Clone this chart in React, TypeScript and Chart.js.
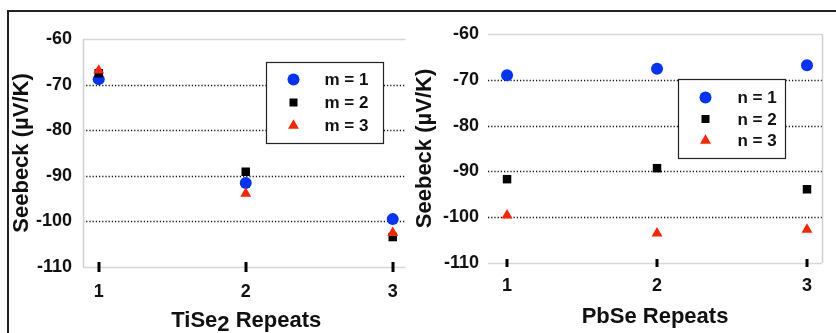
import React, { useEffect, useRef } from 'react';
import { Chart, registerables } from 'chart.js';

Chart.register(...registerables);

// ---------- data ----------
const repeats = [1, 2, 3];
const yTickValues = [-110, -100, -90, -80, -70, -60];

const tiseTitle = ['TiSe', '2', ' Repeats'];
const tiseLabels = ['m = 1', 'm = 2', 'm = 3'];
const tiseM1 = [-68.8, -91.6, -99.5];
const tiseM2 = [-67.5, -89.1, -103.4];
const tiseM3 = [-66.9, -93.9, -102.5];

const pbseTitle = 'PbSe Repeats';
const pbseLabels = ['n = 1', 'n = 2', 'n = 3'];
const pbseN1 = [-69.0, -67.6, -66.8];
const pbseN2 = [-91.7, -89.3, -93.9];
const pbseN3 = [-99.6, -103.5, -102.7];

const yTitle = 'Seebeck (µV/K)';

// ---------- styles ----------
const FONT = "'Liberation Sans', Arial, Helvetica, sans-serif";
const seriesColors = ['#0033ff', '#000000', '#ff2200'];
const pointStyles = ['circle', 'rect', 'triangle'];
const pointRadii = [6, 6, 6.3];

function drawMarker(ctx: CanvasRenderingContext2D, style: string, x: number, y: number, color: string) {
  ctx.fillStyle = color;
  ctx.beginPath();
  if (style === 'circle') {
    ctx.arc(x, y, 6, 0, Math.PI * 2);
  } else if (style === 'rect') {
    ctx.rect(x - 4, y - 4, 8, 8);
  } else {
    const r = 6.3;
    ctx.moveTo(x, y - r);
    ctx.lineTo(x + r * 0.866, y + r * 0.5);
    ctx.lineTo(x - r * 0.866, y + r * 0.5);
    ctx.closePath();
  }
  ctx.fill();
}

const decorPlugin = {
  id: 'decor',
  beforeDatasetsDraw(chart: any, _args: any, opts: any) {
    const { ctx, chartArea: a, scales } = chart;
    const x = scales.x;
    const y = scales.y;
    ctx.save();
    for (const v of yTickValues) {
      const py = Math.round(y.getPixelForValue(v)) + 0.5;
      ctx.beginPath();
      if (v === -60 || v === -110) {
        ctx.setLineDash([]);
        ctx.strokeStyle = '#d8d8d8';
        ctx.lineWidth = 1.5;
      } else {
        ctx.setLineDash([1.2, 2]);
        ctx.strokeStyle = '#111';
        ctx.lineWidth = 1.5;
      }
      ctx.moveTo(a.left, py);
      ctx.lineTo(a.right, py);
      ctx.stroke();
    }
    ctx.setLineDash([]);
    ctx.strokeStyle = '#d0d0d0';
    ctx.lineWidth = 1.5;
    if (opts.leftLine) {
      ctx.beginPath();
      ctx.moveTo(Math.round(a.left) + 0.5, a.top);
      ctx.lineTo(Math.round(a.left) + 0.5, a.bottom);
      ctx.stroke();
    }
    if (opts.rightLine) {
      ctx.beginPath();
      ctx.moveTo(Math.round(a.right) + 0.5, a.top);
      ctx.lineTo(Math.round(a.right) + 0.5, a.bottom);
      ctx.stroke();
    }
    ctx.fillStyle = '#000';
    for (const v of repeats) {
      const px = x.getPixelForValue(v);
      const py = y.getPixelForValue(-110);
      ctx.fillRect(Math.round(px) - 1.5, py - opts.tickHalf, 3, opts.tickHalf * 2);
    }
    ctx.restore();
  },
  afterDraw(chart: any, _args: any, opts: any) {
    const { ctx, chartArea: a } = chart;
    ctx.save();
    const lg = opts.legend;
    const bx = Math.round(a.left + lg.x) + 0.5;
    const by = Math.round(a.top + lg.y) + 0.5;
    ctx.fillStyle = '#fff';
    ctx.fillRect(bx, by, lg.w, lg.h);
    ctx.strokeStyle = '#222';
    ctx.lineWidth = 1.2;
    ctx.strokeRect(bx, by, lg.w, lg.h);
    chart.data.datasets.forEach((ds: any, i: number) => {
      const ry = by + lg.row0 + lg.rowGap * i;
      drawMarker(ctx, ds.pointStyle, bx + lg.markerX, ry, ds.pointBackgroundColor);
      ctx.fillStyle = '#111';
      ctx.font = `bold 17px ${FONT}`;
      ctx.textBaseline = 'middle';
      ctx.textAlign = 'left';
      ctx.fillText(ds.label, bx + lg.textX, ry + 1);
    });
    if (opts.subTitle) {
      const parts: string[] = opts.subTitle;
      ctx.font = `bold 22px ${FONT}`;
      ctx.fillStyle = '#111';
      ctx.textBaseline = 'alphabetic';
      ctx.textAlign = 'left';
      const widths = parts.map((p) => ctx.measureText(p).width);
      const total = widths.reduce((s, w) => s + w, 0);
      let cx = (a.left + a.right) / 2 - total / 2 + 2;
      const base = opts.subTitleBaseline;
      parts.forEach((p, i) => {
        ctx.fillText(p, cx, i === 1 ? base + 4 : base);
        cx += widths[i];
      });
    }
    ctx.restore();
  },
};

function makeConfig(p: any) {
  const datasets = p.series.map((vals: number[], i: number) => ({
    label: p.labels[i],
    data: repeats.map((r, j) => ({ x: r, y: vals[j] })),
    pointStyle: pointStyles[i],
    pointRadius: pointRadii[i],
    pointHoverRadius: pointRadii[i],
    pointBackgroundColor: seriesColors[i],
    pointBorderColor: seriesColors[i],
    pointBorderWidth: 0,
    showLine: false,
    order: 3 - i,
  }));
  const tickFont = { family: FONT, size: 18, weight: 'bold' as const };
  const titleFont = { family: FONT, size: 22, weight: 'bold' as const };
  return {
    type: 'scatter' as const,
    data: { datasets },
    plugins: [decorPlugin],
    options: {
      animation: false,
      responsive: false,
      devicePixelRatio: 1,
      events: [],
      layout: { padding: p.padding },
      plugins: {
        legend: { display: false },
        tooltip: { enabled: false },
        decor: {
          leftLine: p.leftLine,
          rightLine: p.rightLine,
          tickHalf: p.tickHalf,
          legend: p.legend,
          subTitle: p.subTitle,
          subTitleBaseline: p.subTitleBaseline,
        },
      },
      scales: {
        x: {
          type: 'linear',
          min: p.xMin,
          max: p.xMax,
          afterBuildTicks: (s: any) => {
            s.ticks = repeats.map((v) => ({ value: v }));
          },
          afterFit: (s: any) => {
            s.height = p.xH;
          },
          grid: { display: false, drawTicks: false },
          border: { display: false },
          ticks: {
            padding: p.xPad,
            font: tickFont,
            color: '#111',
            maxRotation: 0,
            autoSkip: false,
            callback: (v: any) => String(v),
          },
          title: {
            display: !!p.xTitle,
            text: p.xTitle || '',
            font: titleFont,
            color: '#111',
            padding: { top: 0, bottom: p.xTitlePad },
          },
        },
        y: {
          type: 'linear',
          min: -110,
          max: -60,
          afterBuildTicks: (s: any) => {
            s.ticks = yTickValues.map((v) => ({ value: v }));
          },
          afterFit: (s: any) => {
            s.width = p.yW;
          },
          grid: { display: false, drawTicks: false },
          border: { display: false },
          ticks: {
            padding: p.yPad,
            font: tickFont,
            color: '#111',
            autoSkip: false,
            callback: (v: any) => String(v),
          },
          title: {
            display: true,
            text: yTitle,
            font: titleFont,
            color: '#111',
            padding: { top: p.yTitlePad, bottom: 0 },
          },
        },
      },
    },
  };
}

function ChartCanvas({ config, left, width, height }: any) {
  const ref = useRef<HTMLCanvasElement>(null);
  useEffect(() => {
    const chart = new Chart(ref.current as HTMLCanvasElement, config as any);
    return () => chart.destroy();
  }, []);
  return (
    <canvas
      ref={ref}
      width={width}
      height={height}
      style={{ position: 'absolute', left, top: 0, width, height }}
    />
  );
}

const leftConfig = makeConfig({
  series: [tiseM1, tiseM2, tiseM3],
  labels: tiseLabels,
  padding: { left: 0, top: 39, right: 2, bottom: 0 },
  xMin: 0.893,
  xMax: 3.087,
  xH: 66,
  xPad: 14,
  xTitle: '',
  xTitlePad: 3,
  yW: 83,
  yPad: 11,
  yTitlePad: 9,
  leftLine: true,
  rightLine: false,
  tickHalf: 5,
  legend: { x: 183, y: 23, w: 117, h: 81, row0: 17, rowGap: 23, markerX: 27, textX: 58 },
  subTitle: tiseTitle,
  subTitleBaseline: 327,
});

const rightConfig = makeConfig({
  series: [pbseN1, pbseN2, pbseN3],
  labels: pbseLabels,
  padding: { left: 0, top: 34, right: 14, bottom: 0 },
  xMin: 0.873,
  xMax: 3.1,
  xH: 70,
  xPad: 12,
  xTitle: pbseTitle,
  xTitlePad: 3,
  yW: 80,
  yPad: 9,
  yTitlePad: 4,
  leftLine: false,
  rightLine: true,
  tickHalf: 4,
  legend: { x: 190, y: 45, w: 107, h: 79, row0: 18, rowGap: 21.5, markerX: 27, textX: 59 },
  subTitle: null,
  subTitleBaseline: 0,
});

export default function App() {
  return (
    <div style={{ position: 'absolute', left: 0, top: 0, width: 836, height: 333, overflow: 'hidden', background: '#fff' }}>
      <div
        style={{
          position: 'absolute',
          left: 7,
          top: 10,
          width: 840,
          height: 340,
          borderLeft: '2px solid #222',
          borderTop: '2px solid #222',
        }}
      />
      <ChartCanvas config={leftConfig} left={0} width={412} height={333} />
      <ChartCanvas config={rightConfig} left={408} width={428} height={333} />
    </div>
  );
}
